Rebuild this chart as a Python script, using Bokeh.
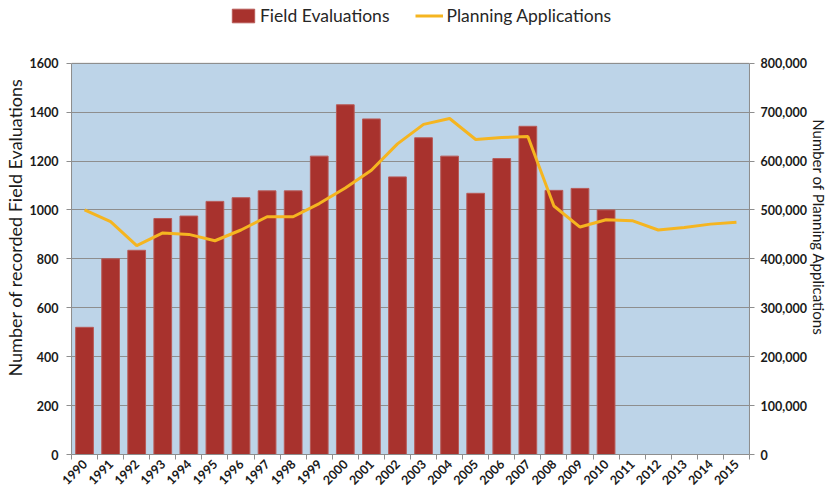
import math
from bokeh.plotting import figure
from bokeh.models import (Range1d, LinearAxis, FixedTicker, NumeralTickFormatter,
                          Legend, LegendItem, BoxAnnotation)
from bokeh.embed import file_html
from bokeh.resources import INLINE

years = [1990, 1991, 1992, 1993, 1994, 1995, 1996, 1997, 1998, 1999, 2000, 2001, 2002,
         2003, 2004, 2005, 2006, 2007, 2008, 2009, 2010, 2011, 2012, 2013, 2014, 2015]
field_years = [1990, 1991, 1992, 1993, 1994, 1995, 1996, 1997, 1998, 1999, 2000,
               2001, 2002, 2003, 2004, 2005, 2006, 2007, 2008, 2009, 2010]
field_evaluations = [520, 800, 835, 965, 975, 1035, 1050, 1078, 1078, 1220, 1430,
                     1372, 1135, 1295, 1220, 1068, 1210, 1342, 1080, 1088, 1000]
planning_applications = [500000, 476000, 427000, 453000, 450000, 437000, 459000, 486000,
                         486000, 513000, 545000, 581000, 635000, 675000, 687000, 644000,
                         648000, 650000, 508000, 465000, 480000, 478000, 459000, 464000,
                         471000, 475000]
left_ticks = [0, 200, 400, 600, 800, 1000, 1200, 1400, 1600]
right_ticks = [0, 100000, 200000, 300000, 400000, 500000, 600000, 700000, 800000]
left_max = 1600
right_max = 800000

FONT = "Lato"
BAR = "#A8322D"
LINE = "#F5B520"
GRID = "#8E8E8E"
PLOT_BG = "#BDD4E8"
TXT = "#1a1a1a"
FW, FH = 678, 454
HEADROOM = 454 / 391.3  # frame extends above the plot area to hold the legend

p = figure(frame_width=FW, frame_height=FH, output_backend="svg", toolbar_location=None,
           x_range=Range1d(years[0] - 0.5, years[-1] + 0.5),
           y_range=Range1d(0, left_max * HEADROOM),
           min_border_left=64, min_border_right=70, min_border_top=0, min_border_bottom=30,
           border_fill_color="white", background_fill_color="white")
p.extra_y_ranges = {"apps": Range1d(0, right_max * HEADROOM)}
p.outline_line_color = None

# plot-area background (blue) with grey outline, limited to the value range
bg = BoxAnnotation(bottom=0, top=left_max, fill_color=PLOT_BG, fill_alpha=1,
                   line_color=GRID, line_width=1.2, level="image")
p.add_layout(bg)

bars = p.vbar(x=field_years, top=field_evaluations, width=0.68, fill_color=BAR,
              line_color="#B85A57", line_width=1)
line = p.line(x=years, y=planning_applications, y_range_name="apps",
              line_color=LINE, line_width=3)

# x axis
xa = p.xaxis[0]
xa.ticker = FixedTicker(ticks=years, minor_ticks=[y - 0.5 for y in years] + [years[-1] + 0.5])
xa.major_tick_out = 0
xa.major_tick_in = 0
xa.minor_tick_out = 5
xa.minor_tick_in = 0
xa.major_label_orientation = math.pi / 4
xa.major_label_standoff = 2
xa.major_label_text_font = FONT
xa.major_label_text_font_style = "bold"
xa.major_label_text_font_size = "12.5px"
xa.major_label_text_color = TXT
xa.axis_line_color = GRID
xa.minor_tick_line_color = GRID
p.xgrid.grid_line_color = None

# left axis
ya = p.yaxis[0]
ya.ticker = FixedTicker(ticks=left_ticks)
ya.bounds = (0, left_max)
ya.minor_tick_line_color = None
ya.major_tick_out = 5
ya.major_tick_in = 0
ya.axis_line_color = GRID
ya.major_tick_line_color = GRID
ya.major_label_standoff = 8
ya.major_label_text_font = FONT
ya.major_label_text_font_style = "bold"
ya.major_label_text_font_size = "12.5px"
ya.major_label_text_color = TXT
ya.axis_label = "Number of recorded Field Evaluations"
ya.axis_label_text_font = FONT
ya.axis_label_text_font_style = "normal"
ya.axis_label_text_font_size = "18px"
ya.axis_label_text_color = TXT
ya.axis_label_standoff = 1
p.ygrid.ticker = FixedTicker(ticks=left_ticks)
p.ygrid.grid_line_color = GRID
p.ygrid.grid_line_width = 1.2

# right axis
ra = LinearAxis(y_range_name="apps", ticker=FixedTicker(ticks=right_ticks),
                formatter=NumeralTickFormatter(format="0,0"), bounds=(0, right_max))
ra.minor_tick_line_color = None
ra.major_tick_out = 5
ra.major_tick_in = 0
ra.axis_line_color = GRID
ra.major_tick_line_color = GRID
ra.major_label_text_font = FONT
ra.major_label_text_font_style = "bold"
ra.major_label_text_font_size = "12.5px"
ra.major_label_text_color = TXT
ra.major_label_standoff = 6
ra.axis_label = "Number of Planning Applications"
ra.axis_label_text_font = FONT
ra.axis_label_text_font_style = "normal"
ra.axis_label_text_font_size = "15px"
ra.axis_label_text_color = TXT
ra.axis_label_standoff = 0
p.add_layout(ra, "right")

legend = Legend(items=[LegendItem(label="Field Evaluations", renderers=[bars]),
                       LegendItem(label="Planning Applications", renderers=[line])],
                orientation="horizontal", location=(158, 428),
                label_text_font=FONT, label_text_font_size="17.5px",
                label_text_color="#262626", glyph_width=28, glyph_height=17,
                spacing=26, padding=2, margin=0, border_line_color=None,
                background_fill_alpha=0, label_standoff=3)
p.add_layout(legend, "center")

open("out.html", "w").write(file_html(p, INLINE))
